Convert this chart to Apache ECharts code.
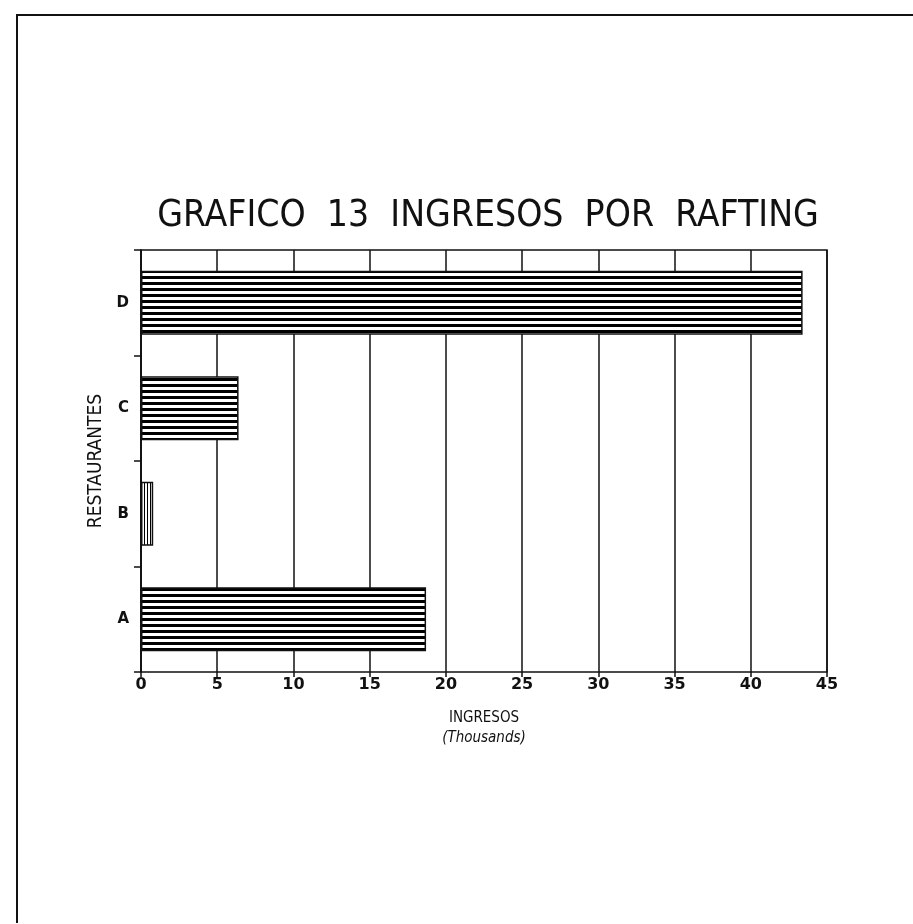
<!DOCTYPE html>
<html>
<head>
<meta charset="utf-8">
<script src="https://cdn.jsdelivr.net/npm/echarts@6/dist/echarts.min.js"></script>
<style>
html,body{margin:0;padding:0;background:#fff;}
#frame{position:absolute;left:16px;top:14px;width:897px;height:909px;border-left:2px solid #111;border-top:2px solid #111;box-sizing:border-box;pointer-events:none;}
#chart{position:absolute;left:0;top:0;width:913px;height:924px;}
</style>
</head>
<body>
<div id="chart"></div>
<div id="frame"></div>
<script>
const categories = ['A', 'B', 'C', 'D'];
const values = [18.7, 0.8, 6.4, 43.4];
const xTicks = [0, 5, 10, 15, 20, 25, 30, 35, 40, 45];
const titleWords = ['GRAFICO', '13', 'INGRESOS', 'POR', 'RAFTING'];

function stripePattern(horizontal) {
  const c = document.createElement('canvas');
  if (horizontal) {
    c.width = 8; c.height = 6;
    const g = c.getContext('2d');
    g.fillStyle = '#fff'; g.fillRect(0, 0, 8, 6);
    g.fillStyle = '#000'; g.fillRect(0, 0, 8, 3);
  } else {
    c.width = 3; c.height = 8;
    const g = c.getContext('2d');
    g.fillStyle = '#fff'; g.fillRect(0, 0, 3, 8);
    g.fillStyle = '#000'; g.fillRect(0, 0, 1, 8);
  }
  return { image: c, repeat: 'repeat' };
}

const hPat = stripePattern(true);
const vPat = stripePattern(false);

const chart = echarts.init(document.getElementById('chart'), null, { renderer: 'canvas' });
chart.setOption({
  backgroundColor: '#fff',
  animation: false,
  title: {
    text: titleWords.join('  '),
    left: 483, top: 193, textAlign: 'center',
    textStyle: { fontFamily: '"Liberation Sans Narrow","DejaVu Sans Condensed",sans-serif', fontWeight: 'normal', fontSize: 37, color: '#111' }
  },
  grid: { left: 141, right: 86, top: 250, bottom: 252, show: true, borderColor: '#111', borderWidth: 1.5, backgroundColor: 'transparent' },
  xAxis: {
    type: 'value', min: 0, max: 45, interval: 5,
    name: '{a|INGRESOS}\n{b|(Thousands)}',
    nameLocation: 'middle', nameGap: 36,
    nameTextStyle: {
      rich: {
        a: { fontFamily: '"Liberation Sans Narrow","DejaVu Sans Condensed",sans-serif', fontSize: 15, color: '#111', lineHeight: 20 },
        b: { fontFamily: '"Liberation Sans Narrow","DejaVu Sans Condensed",sans-serif', fontSize: 15, fontStyle: 'italic', color: '#111', lineHeight: 20 }
      }
    },
    axisLine: { lineStyle: { color: '#111', width: 1.5 } },
    axisTick: { show: true, length: 5, lineStyle: { color: '#111', width: 1.5 } },
    axisLabel: { color: '#111', fontSize: 16, fontWeight: 'bold', fontFamily: '"DejaVu Sans",sans-serif', margin: 5,
      formatter: v => xTicks.includes(v) ? String(v) : '' },
    splitLine: { show: true, lineStyle: { color: '#111', width: 1.5 } }
  },
  yAxis: {
    type: 'category', data: categories,
    name: 'RESTAURANTES', nameLocation: 'middle', nameGap: 33, nameRotate: 90,
    nameTextStyle: { fontFamily: '"Liberation Sans Narrow","DejaVu Sans Condensed",sans-serif', fontSize: 19, color: '#111' },
    axisLine: { lineStyle: { color: '#111', width: 1.5 } },
    axisTick: { show: true, length: 7, lineStyle: { color: '#111', width: 1.5 } },
    axisLabel: { color: '#111', fontSize: 15, fontWeight: 'bold', fontFamily: '"DejaVu Sans",sans-serif', margin: 12 },
    splitLine: { show: false }
  },
  series: [{
    type: 'bar',
    data: values.map((v, i) => ({ value: v, itemStyle: { color: categories[i] === 'B' ? vPat : hPat } })),
    barWidth: 64,
    itemStyle: { borderColor: '#111', borderWidth: 1.5 }
  }]
});
</script>
</body>
</html>
